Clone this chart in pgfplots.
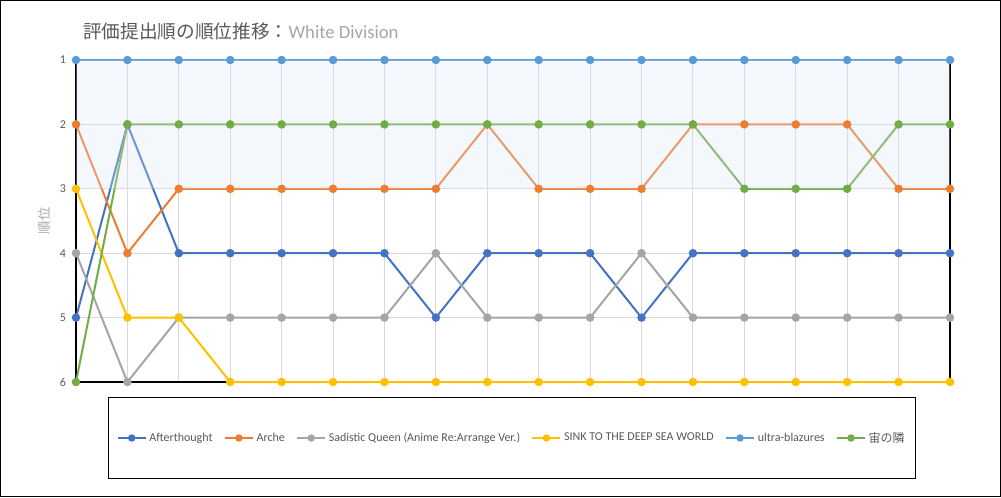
\documentclass[border=0pt]{standalone}
\usepackage{fontspec}
\setmainfont{Carlito}
\newfontfamily\jp{Noto Sans CJK JP}
\usepackage{pgfplots}
\usepackage{pgfplotstable}
\pgfplotsset{compat=1.18}
\definecolor{cA}{HTML}{4472C4}
\definecolor{cB}{HTML}{ED7D31}
\definecolor{cC}{HTML}{A5A5A5}
\definecolor{cD}{HTML}{FFC000}
\definecolor{cE}{HTML}{5B9BD5}
\definecolor{cF}{HTML}{70AD47}
\definecolor{gridgray}{HTML}{D9D9D9}
\definecolor{txtgray}{HTML}{595959}
\definecolor{lightgray2}{HTML}{A6A6A6}
\definecolor{bandcol}{HTML}{DAE4F5}

\pgfplotstableread{
x A B C D E F
0 5 2 4 3 1 6
1 2 4 6 5 1 2
2 4 3 5 5 1 2
3 4 3 5 6 1 2
4 4 3 5 6 1 2
5 4 3 5 6 1 2
6 4 3 5 6 1 2
7 5 3 4 6 1 2
8 4 2 5 6 1 2
9 4 3 5 6 1 2
10 4 3 5 6 1 2
11 5 3 4 6 1 2
12 4 2 5 6 1 2
13 4 2 5 6 1 3
14 4 2 5 6 1 3
15 4 2 5 6 1 3
16 4 3 5 6 1 2
17 4 3 5 6 1 2
}\ranks

\begin{document}
\begin{tikzpicture}
\useasboundingbox (0,0) rectangle (750.75pt,372.75pt);
\draw[black,line width=0.75pt] (0.375pt,0.375pt) rectangle (750.375pt,372.375pt);
\node[anchor=west,inner sep=0pt] at (62.25pt,349.5pt) {\fontsize{14}{16}\selectfont{\jp\color{txtgray}評価提出順の順位推移：}{\color{lightgray2}White Division}};
\node[rotate=90,inner sep=0pt,text=lightgray2] at (33pt,207pt) {\fontsize{10}{12}\selectfont\jp 順位};
\begin{axis}[
  at={(57pt,86.25pt)}, anchor=south west,
  scale only axis, width=655.5pt, height=241.5pt,
  xmin=0, xmax=17, ymin=1, ymax=6, y dir=reverse,
  xtick={0,...,17}, xticklabels={}, ytick={1,...,6},
  grid=major, major grid style={draw=gridgray, line width=0.75pt},
  axis line style={draw=none}, tick style={draw=none},
  clip=false,
  /pgf/number format/assume math mode=true,
  yticklabel style={font=\fontsize{9}{10}\selectfont, text=txtgray, xshift=-4pt},
  every axis plot/.append style={line width=1.5pt, mark=*, mark size=2.4pt},
  legend columns=6,
  legend style={at={(0.4989,-0.1739)}, anchor=center, draw=black, line width=0.75pt,
    font=\fontsize{9}{10}\selectfont, text=txtgray, inner ysep=24pt, inner xsep=6pt,
    /tikz/every even column/.append style={column sep=6.5pt}},
  legend image code/.code={\draw[mark repeat=2,mark phase=2,mark size=2pt] plot coordinates {(0pt,0pt)(10.5pt,0pt)(21pt,0pt)};},
]
\draw[black,line width=1.5pt] (axis cs:0,1) -- (axis cs:0,6) -- (axis cs:17,6) -- (axis cs:17,1);
\addplot[color=cA, mark options={fill=cA,draw=cA}] table[x=x,y=A]{\ranks};
\addlegendentry{Afterthought}
\addplot[color=cB, mark options={fill=cB,draw=cB}] table[x=x,y=B]{\ranks};
\addlegendentry{Arche}
\addplot[color=cC, mark options={fill=cC,draw=cC}] table[x=x,y=C]{\ranks};
\addlegendentry{Sadistic Queen (Anime Re:Arrange Ver.)}
\addplot[color=cD, mark options={fill=cD,draw=cD}] table[x=x,y=D]{\ranks};
\addlegendentry{SINK TO THE DEEP SEA WORLD}
\addplot[color=cE, mark options={fill=cE,draw=cE}] table[x=x,y=E]{\ranks};
\addlegendentry{ultra-blazures}
\addplot[color=cF, mark options={fill=cF,draw=cF}] table[x=x,y=F]{\ranks};
\addlegendentry{{\jp 宙の隣}}
\addplot[draw=none, mark=none, fill=bandcol, fill opacity=0.3, forget plot] coordinates {(0,1) (17,1) (17,3) (0,3)} -- cycle;
\end{axis}
\end{tikzpicture}
\end{document}
